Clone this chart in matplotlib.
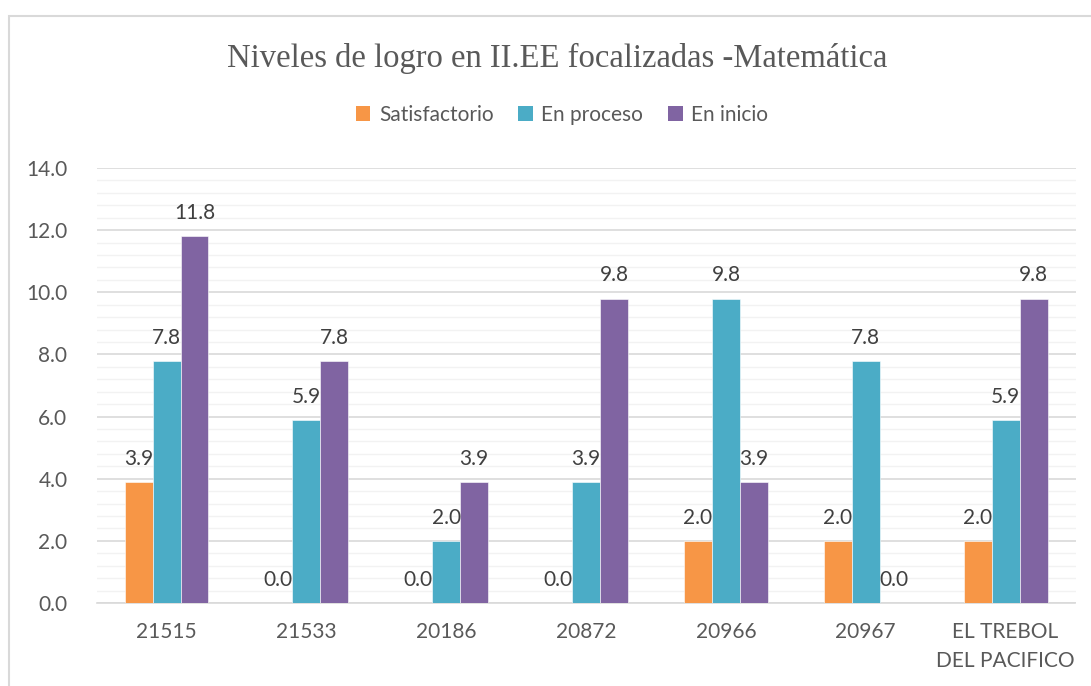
import matplotlib
matplotlib.use("Agg")
import matplotlib.pyplot as plt
import numpy as np
from matplotlib.patches import Rectangle, Patch
from matplotlib.ticker import MultipleLocator

categories = ["21515", "21533", "20186", "20872", "20966", "20967", "EL TREBOL\nDEL PACIFICO"]
series_names = ["Satisfactorio", "En proceso", "En inicio"]
satisfactorio = [3.9, 0.0, 0.0, 0.0, 2.0, 2.0, 2.0]
en_proceso = [7.8, 5.9, 2.0, 3.9, 9.8, 7.8, 5.9]
en_inicio = [11.8, 7.8, 3.9, 9.8, 3.9, 0.0, 9.8]
colors = ["#F79646", "#4BACC6", "#8064A2"]

W, H = 1091, 686
fig = plt.figure(figsize=(W / 100, H / 100), dpi=100)
plt.rcParams['font.family'] = ['Lato', 'DejaVu Sans']
txt = "#595959"
fs = 15

# chart frame
fig.patches.append(Rectangle((9 / W, -0.1), 1.2, 1 - 16 / H + 0.1, transform=fig.transFigure,
                             fill=False, edgecolor="#d9d9d9", linewidth=1.5))

ax = fig.add_axes([96.6 / W, 1 - 603 / H, (1075.5 - 96.6) / W, (603 - 168) / H])
x = np.arange(len(categories))
bw = 0.2
for i, (vals, name, c) in enumerate(zip([satisfactorio, en_proceso, en_inicio], series_names, colors)):
    pos = x + (i - 1) * bw
    ax.bar(pos, vals, width=bw, color=c, edgecolor="white", linewidth=0.4, label=name, zorder=3)
    for p, v in zip(pos, vals):
        ax.text(p, v + 0.42, f"{v:.1f}", ha="center", va="bottom", fontsize=fs, color="#404040", zorder=4)

ax.set_xlim(-0.5, len(categories) - 0.5)
ax.set_ylim(0, 14)
ax.yaxis.set_minor_locator(MultipleLocator(0.4))
yt = np.arange(0, 14.1, 2)
ax.set_yticks(yt)
ax.set_yticklabels([f"{v:.1f}" for v in yt])
ax.grid(which="major", axis="y", color="#d9d9d9", linewidth=1.2, zorder=0)
ax.grid(which="minor", axis="y", color="#f2f2f2", linewidth=1.0, zorder=0)
ax.set_xticks(x)
ax.set_xticklabels(categories, linespacing=1.55)
for s in ["left", "right", "top"]:
    ax.spines[s].set_visible(False)
ax.spines["bottom"].set_color("#d9d9d9")
ax.spines["bottom"].set_linewidth(1.2)
ax.tick_params(axis="both", which="both", length=0, labelsize=fs, labelcolor=txt)
ax.tick_params(axis="y", pad=21)
ax.tick_params(axis="x", pad=14)

fig.text(557 / W, 1 - 58 / H, "Niveles de logro en II.EE focalizadas -Matemática",
         ha="center", va="center", fontsize=23.5, color=txt, family=["Liberation Serif", "DejaVu Serif"])

handles = [Patch(facecolor=c, edgecolor="none") for c in colors]
fig.legend(handles, series_names, loc="center", bbox_to_anchor=(562 / W, 1 - 115 / H), ncol=3,
           frameon=False, fontsize=fs, labelcolor=txt, handlelength=0.7, handleheight=0.7,
           handletextpad=0.4, columnspacing=1.2)

fig.savefig("out.png", dpi=100)
